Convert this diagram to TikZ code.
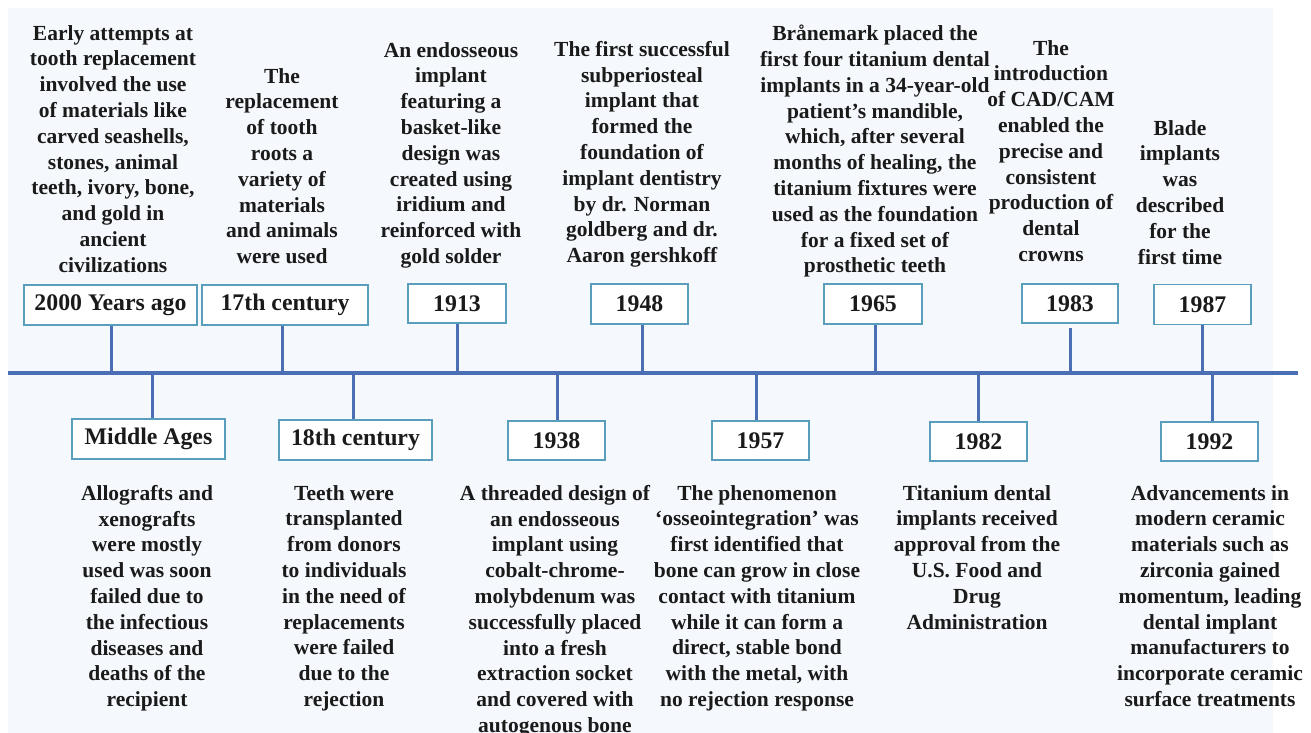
\documentclass[tikz,border=0pt]{standalone}
\usepackage{fontspec}
\setmainfont{Liberation Serif}
\definecolor{bgc}{HTML}{F5F8FC}
\definecolor{linec}{HTML}{4A6FB5}
\definecolor{boxc}{HTML}{5A9EBE}
\definecolor{txtc}{HTML}{1A1A1A}
\tikzset{
  yearbox/.style={draw=boxc, line width=1.2pt, fill=white, inner sep=0pt, minimum height=40pt,
    font=\fontsize{23.8}{27}\selectfont\bfseries, text=txtc},
  desc/.style={anchor=north, align=center, inner sep=0pt,
    font=\fontsize{21.5}{25.8}\selectfont\bfseries, text=txtc},
  axis/.style={draw=linec, line width=3.5pt},
  stem/.style={draw=linec, line width=3pt},
}
\begin{document}
\begin{tikzpicture}[x=1pt,y=-1pt]
\useasboundingbox (0,0) rectangle (1311,733);
\fill[white] (0,0) rectangle (1311,733);
\fill[bgc] (8,8) rectangle (1273,733);

% timeline
\coordinate (L) at (8,373);
\coordinate (R) at (1298,373);
\draw[axis] (L) -- (R);

% top boxes
\node[yearbox, minimum width=173pt] (b1) at (110.5,305) {2000 Years ago};
\node[yearbox, minimum width=166pt] (b2) at (285,305) {17th century};
\node[yearbox, minimum width=98pt, minimum height=39pt] (b3) at (457,303.5) {1913};
\node[yearbox, minimum width=97pt] (b4) at (639.5,304) {1948};
\node[yearbox, minimum width=98pt] (b5) at (873,304) {1965};
\node[yearbox, minimum width=96pt, minimum height=39pt] (b6) at (1070,303.5) {1983};
\node[yearbox, minimum width=97pt] (b7) at (1202.5,304.5) {1987};

% bottom boxes
\node[yearbox, minimum width=153pt] (c1) at (148.5,439) {Middle Ages};
\node[yearbox, minimum width=153pt] (c2) at (355.5,440) {18th century};
\node[yearbox, minimum width=97pt, minimum height=39pt] (c3) at (556.5,440.5) {1938};
\node[yearbox, minimum width=97pt, minimum height=39pt] (c4) at (760.5,440.5) {1957};
\node[yearbox, minimum width=97pt, minimum height=39pt] (c5) at (978.5,441.5) {1982};
\node[yearbox, minimum width=97pt, minimum height=39pt] (c6) at (1209.5,441.5) {1992};

% timeline anchor points
\coordinate (t1) at (111,373);
\coordinate (t2) at (282,373);
\coordinate (t3) at (457,373);
\coordinate (t4) at (642,373);
\coordinate (t5) at (875,373);
\coordinate (t6) at (1070,373);
\coordinate (t7) at (1202,373);
\coordinate (u1) at (152,373);
\coordinate (u2) at (353,373);
\coordinate (u3) at (557,373);
\coordinate (u4) at (756,373);
\coordinate (u5) at (978,373);
\coordinate (u6) at (1212,373);

\draw[stem] (t1) -- (t1 |- b1.south);
\draw[stem] (t2) -- (t2 |- b2.south);
\draw[stem] (t3) -- (t3 |- b3.south);
\draw[stem] (t4) -- (t4 |- b4.south);
\draw[stem] (t5) -- (t5 |- b5.south);
\draw[stem] (t6) -- ([yshift=-4pt]t6 |- b6.south);
\draw[stem] (t7) -- (t7 |- b7.south);
\draw[stem] (u1) -- (u1 |- c1.north);
\draw[stem] (u2) -- (u2 |- c2.north);
\draw[stem] (u3) -- (u3 |- c3.north);
\draw[stem] (u4) -- (u4 |- c4.north);
\draw[stem] (u5) -- (u5 |- c5.north);
\draw[stem] (u6) -- (u6 |- c6.north);

% top descriptions
\node[desc] (d1) at (113,25) {Early attempts at\\tooth replacement\\involved the use\\of materials like\\carved seashells,\\stones, animal\\teeth, ivory, bone,\\and gold in\\ancient\\civilizations};
\node[desc] (d2) at (282,68) {The\\replacement\\of tooth\\roots a\\variety of\\materials\\and animals\\were used};
\node[desc] (d3) at (451,42) {An endosseous\\implant\\featuring a\\basket-like\\design was\\created using\\iridium and\\reinforced with\\gold solder};
\node[desc] (d4) at (642,41) {The first successful\\subperiosteal\\implant that\\formed the\\foundation of\\implant dentistry\\by dr. Norman\\goldberg and dr.\\Aaron gershkoff};
\node[desc] (d5) at (875,25) {Brånemark placed the\\first four titanium dental\\implants in a 34-year-old\\patient’s mandible,\\which, after several\\months of healing, the\\titanium fixtures were\\used as the foundation\\for a fixed set of\\prosthetic teeth};
\node[desc] (d6) at (1051,40) {The\\introduction\\of CAD/CAM\\enabled the\\precise and\\consistent\\production of\\dental\\crowns};
\node[desc] (d7) at (1180,120) {Blade\\implants\\was\\described\\for the\\first time};

% bottom descriptions
\node[desc] (e1) at (147,485) {Allografts and\\xenografts\\were mostly\\used was soon\\failed due to\\the infectious\\diseases and\\deaths of the\\recipient};
\node[desc] (e2) at (344,485) {Teeth were\\transplanted\\from donors\\to individuals\\in the need of\\replacements\\were failed\\due to the\\rejection};
\node[desc] (e3) at (555,485) {A threaded design of\\an endosseous\\implant using\\cobalt-chrome-\\molybdenum was\\successfully placed\\into a fresh\\extraction socket\\and covered with\\autogenous bone};
\node[desc] (e4) at (757,485) {The phenomenon\\‘osseointegration’ was\\first identified that\\bone can grow in close\\contact with titanium\\while it can form a\\direct, stable bond\\with the metal, with\\no rejection response};
\node[desc] (e5) at (977,485) {Titanium dental\\implants received\\approval from the\\U.S. Food and\\Drug\\Administration};
\node[desc] (e6) at (1210,485) {Advancements in\\modern ceramic\\materials such as\\zirconia gained\\momentum, leading\\dental implant\\manufacturers to\\incorporate ceramic\\surface treatments};
\end{tikzpicture}
\end{document}
